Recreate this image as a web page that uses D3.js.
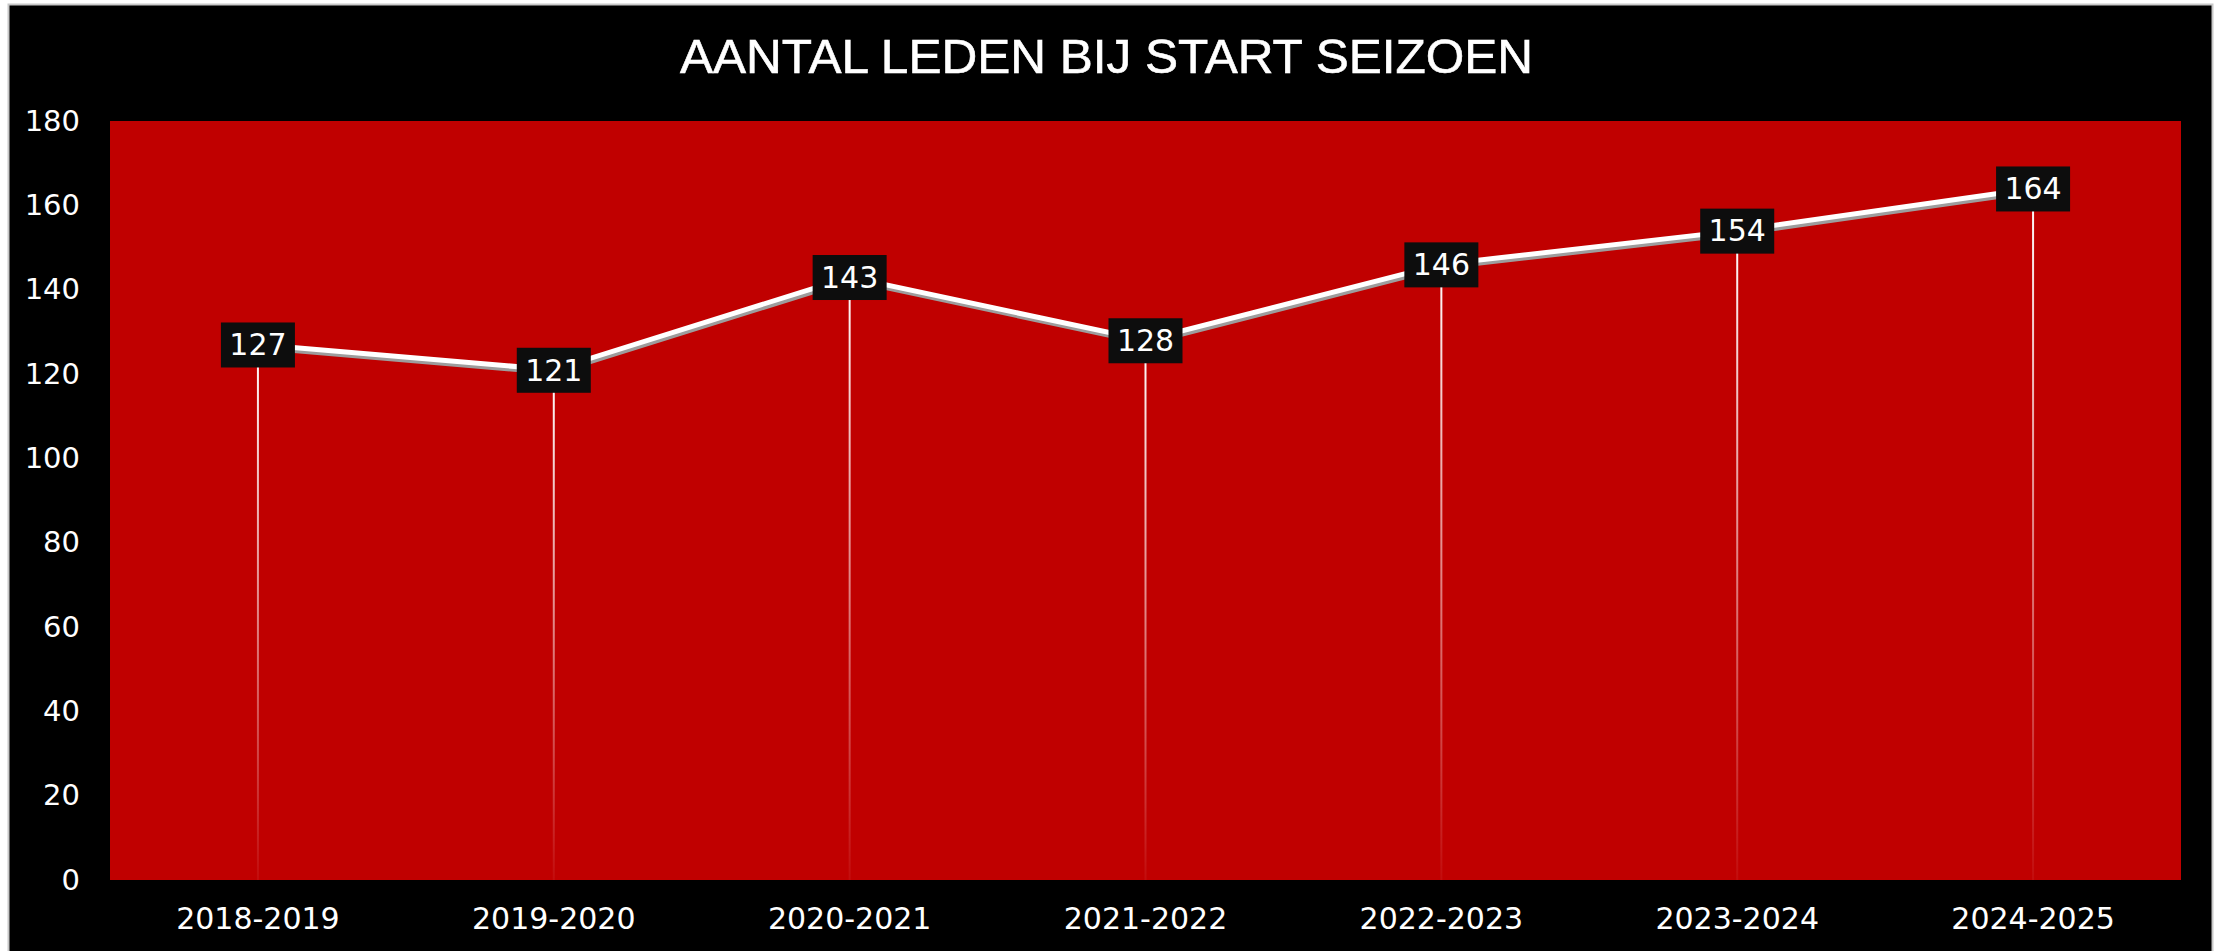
<!DOCTYPE html>
<html>
<head>
<meta charset="utf-8">
<script src="https://cdn.jsdelivr.net/npm/d3@7"></script>
<style>
  html, body { margin: 0; padding: 0; background: #fff; }
  svg { display: block; }
</style>
</head>
<body>
<div class="chart"></div>
<script>
var seasons = ["2018-2019", "2019-2020", "2020-2021", "2021-2022", "2022-2023", "2023-2024", "2024-2025"];
var members = [127, 121, 143, 128, 146, 154, 164];
var yTicks = [0, 20, 40, 60, 80, 100, 120, 140, 160, 180];
var title = "AANTAL LEDEN BIJ START SEIZOEN";

var W = 2216, H = 951;
var margin = { left: 110, top: 121, right: 35, bottom: 71 };
var plotW = W - margin.left - margin.right;
var plotH = H - margin.top - margin.bottom;
var font = "'DejaVu Sans', Verdana, sans-serif";

var svg = d3.select(".chart")
    .append("svg")
    .attr("width", W)
    .attr("height", H);

// frame
svg.append("rect")
    .attr("x", 8.5)
    .attr("y", 4.5)
    .attr("width", 2204)
    .attr("height", 960)
    .attr("fill", "#000")
    .attr("stroke", "#c8c8c8")
    .attr("stroke-width", 2);

svg.append("text")
    .attr("x", 680)
    .attr("y", 73)
    .attr("textLength", 853)
    .attr("lengthAdjust", "spacingAndGlyphs")
    .style("font-family", "'Liberation Sans', Arial, sans-serif")
    .style("font-size", "49px")
    .style("fill", "#fff")
    .style("stroke", "#fff")
    .style("stroke-width", 0.6)
    .text(title);

var defs = svg.append("defs");
var grad = defs.append("linearGradient")
    .attr("id", "dropFade")
    .attr("x1", 0).attr("y1", 0).attr("x2", 0).attr("y2", 1);
grad.append("stop").attr("offset", "0%").attr("stop-color", "#fff").attr("stop-opacity", 1);
grad.append("stop").attr("offset", "100%").attr("stop-color", "#fff").attr("stop-opacity", 0.05);

var g = svg.append("g")
    .attr("transform", "translate(" + margin.left + "," + margin.top + ")");

g.append("rect")
    .attr("width", plotW)
    .attr("height", plotH)
    .attr("fill", "#c00000");

var x = d3.scaleBand()
    .domain(seasons)
    .range([0, plotW]);

var y = d3.scaleLinear()
    .domain([0, 180])
    .range([plotH, 0]);

var cx = function (d, i) { return x(seasons[i]) + x.bandwidth() / 2; };

// y axis
var yAxis = g.append("g")
    .call(d3.axisLeft(y).tickValues(yTicks).tickSize(0).tickPadding(30));
yAxis.select(".domain").remove();
yAxis.selectAll("text")
    .style("font-family", font)
    .style("font-size", "29px")
    .style("fill", "#fff");

// x axis
var xAxis = g.append("g")
    .attr("transform", "translate(0," + plotH + ")")
    .call(d3.axisBottom(x).tickSize(0).tickPadding(28));
xAxis.select(".domain").remove();
xAxis.selectAll("text")
    .style("font-family", font)
    .style("font-size", "30px")
    .style("fill", "#fff");

// drop lines
g.selectAll(".drop")
    .data(members)
    .enter()
    .append("rect")
    .attr("class", "drop")
    .attr("x", function (d, i) { return cx(d, i) - 1; })
    .attr("y", function (d) { return y(d); })
    .attr("width", 2)
    .attr("height", function (d) { return plotH - y(d); })
    .attr("fill", "url(#dropFade)");

var line = d3.line()
    .x(function (d, i) { return cx(d, i); })
    .y(function (d) { return y(d); });

g.append("path")
    .datum(members)
    .attr("d", line)
    .attr("transform", "translate(1,3)")
    .attr("fill", "none")
    .attr("stroke", "#9d9d9d")
    .attr("stroke-width", 5);

g.append("path")
    .datum(members)
    .attr("d", line)
    .attr("fill", "none")
    .attr("stroke", "#fff")
    .attr("stroke-width", 5);

// data labels
var labels = g.selectAll(".lbl")
    .data(members)
    .enter()
    .append("g")
    .attr("class", "lbl")
    .attr("transform", function (d, i) { return "translate(" + cx(d, i) + "," + y(d) + ")"; });

labels.append("rect")
    .attr("x", -37)
    .attr("y", -22)
    .attr("width", 74)
    .attr("height", 45)
    .attr("fill", "#0d0d0d");

labels.append("text")
    .attr("text-anchor", "middle")
    .attr("dy", "0.36em")
    .style("font-family", font)
    .style("font-size", "30px")
    .style("fill", "#fff")
    .text(function (d) { return d; });
</script>
</body>
</html>
